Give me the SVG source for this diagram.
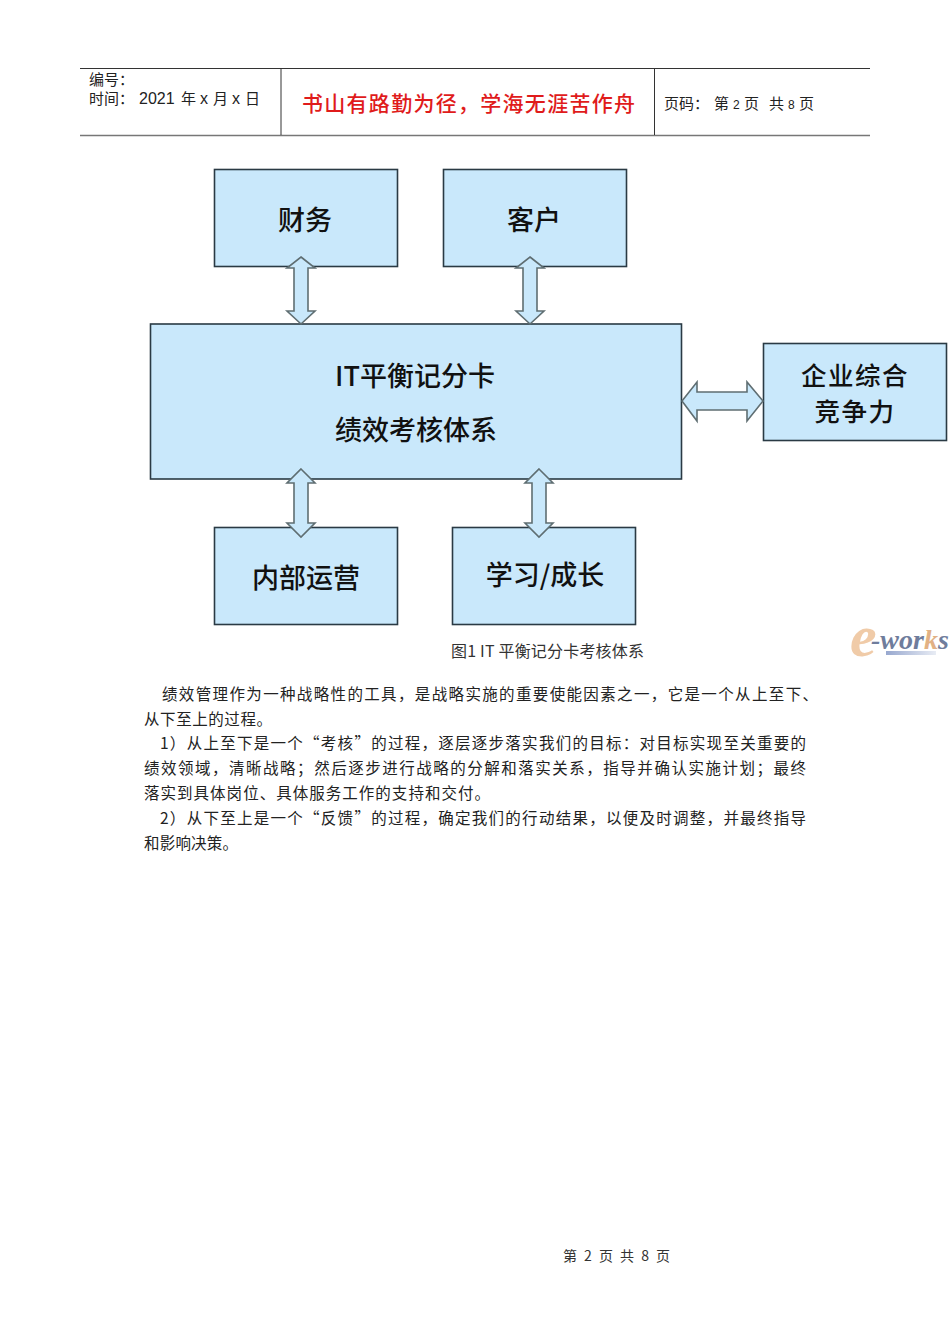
<svg xmlns="http://www.w3.org/2000/svg" width="950" height="1344" viewBox="0 0 950 1344">
<defs>
<linearGradient id="bar" x1="0" x2="1" y1="0" y2="0"><stop offset="0" stop-color="#98a8cf"/><stop offset="1" stop-color="#e8ecf4"/></linearGradient>
</defs>
<style>
text{font-family:"Noto Sans CJK SC","Liberation Sans",sans-serif;fill:#1c1c1c}
.box{fill:#c9e8fb;stroke:#2a3a44;stroke-width:1.6}
.arrow{fill:#c9e8fb;stroke:#5f6e72;stroke-width:1.6;stroke-linejoin:miter}
.big{font-size:27px;text-anchor:middle;fill:#111;font-weight:500}
.body{font-size:15.5px;fill:#222;font-family:"Noto Sans CJK SC",sans-serif}
.head{font-size:15px;fill:#222}
.rule{stroke:#333;stroke-width:1;fill:none}
</style>
<rect width="950" height="1344" fill="#fff"/>
<g id="header">
<path class="rule" d="M80 68.500H870"/>
<path d="M80 135.500H870" stroke="#777" stroke-width="1.5"/>
<path class="rule" d="M281 68V135M654.500 68V135"/>
<text class="head" x="89" y="85">编号：</text>
<text class="head" y="104"><tspan x="89">时间：</tspan><tspan x="139" style="font-family:'Liberation Sans',sans-serif" font-size="16">2021</tspan><tspan x="181">年</tspan><tspan x="200" style="font-family:'Liberation Sans',sans-serif" font-size="16">x</tspan><tspan x="213">月</tspan><tspan x="232" style="font-family:'Liberation Sans',sans-serif" font-size="16">x</tspan><tspan x="245">日</tspan></text>
<text x="302" y="111" font-size="21" font-weight="500" style="fill:#e01b1b" textLength="333">书山有路勤为径，学海无涯苦作舟</text>
<text class="head" y="109"><tspan x="664">页码：</tspan><tspan x="714">第</tspan><tspan x="733" font-size="12" style="font-family:'Liberation Sans',sans-serif">2</tspan><tspan x="744">页</tspan><tspan x="769">共</tspan><tspan x="788" font-size="12" style="font-family:'Liberation Sans',sans-serif">8</tspan><tspan x="799">页</tspan></text>
</g>
<g id="node-finance"><rect class="box" x="214.500" y="169.500" width="183" height="97"/><text class="big" x="305" y="230">财务</text></g>
<g id="node-customer"><rect class="box" x="443.500" y="169.500" width="183" height="97"/><text class="big" x="534" y="230">客户</text></g>
<g id="node-main"><rect class="box" x="150.500" y="324" width="531" height="155"/>
<text class="big" x="415" y="386">IT平衡记分卡</text><text class="big" x="416" y="440">绩效考核体系</text></g>
<g id="node-competitive"><rect class="box" x="763.500" y="343.500" width="183" height="97"/>
<text class="big" x="855" y="385" style="font-size:25.500px;letter-spacing:1.500px">企业综合</text><text class="big" x="855" y="421" style="font-size:25.500px;letter-spacing:1.500px">竞争力</text></g>
<g id="node-internal"><rect class="box" x="214.500" y="527.500" width="183" height="97"/><text class="big" x="306" y="588">内部运营</text></g>
<g id="node-learning"><rect class="box" x="452.500" y="527.500" width="183" height="97"/><text class="big" x="545" y="585">学习/成长</text></g>
<g id="connectors">
<polygon class="arrow" points="301,257 315,268 308,268 308,311 315,311 301,324 287,311 294,311 294,268 287,268"/>
<polygon class="arrow" points="530,257 544,268 537,268 537,311 544,311 530,324 516,311 523,311 523,268 516,268"/>
<polygon class="arrow" points="682,401 697,382 697,392 747,392 747,382 763,401 747,421 747,410 697,410 697,421"/>
<polygon class="arrow" points="301,469 315,483 308,483 308,523 315,523 301,537 287,523 294,523 294,483 287,483"/>
<polygon class="arrow" points="539,469 553,483 546,483 546,523 553,523 539,537 525,523 532,523 532,483 525,483"/>
</g>
<text x="451" y="657" font-size="16" style="fill:#333" textLength="193">图1 IT 平衡记分卡考核体系</text>
<g id="logo">
<text y="656" font-weight="700" font-style="italic" style="font-family:'Liberation Serif',serif"><tspan x="850" font-size="60" style="fill:#f0cba8">e</tspan><tspan x="871" y="649" font-size="28" style="fill:#6f7d9c">-wor</tspan><tspan font-size="28" style="fill:#e2b184">k</tspan><tspan font-size="28" style="fill:#6f7d9c">s</tspan></text>
<rect x="886" y="651" width="50" height="4" fill="url(#bar)"/>
</g>
<g id="body">
<text class="body" x="162" y="700" textLength="656">绩效管理作为一种战略性的工具，是战略实施的重要使能因素之一，它是一个从上至下、</text>
<text class="body" x="144" y="725" textLength="128">从下至上的过程。</text>
<text class="body" x="160" y="749" textLength="646">1）从上至下是一个“考核”的过程，逐层逐步落实我们的目标：对目标实现至关重要的</text>
<text class="body" x="144" y="774" textLength="662">绩效领域，清晰战略；然后逐步进行战略的分解和落实关系，指导并确认实施计划；最终</text>
<text class="body" x="144" y="799" textLength="346">落实到具体岗位、具体服务工作的支持和交付。</text>
<text class="body" x="160" y="824" textLength="646">2）从下至上是一个“反馈”的过程，确定我们的行动结果，以便及时调整，并最终指导</text>
<text class="body" x="144" y="849" textLength="94">和影响决策。</text>
</g>
<text id="footer" x="563" y="1261" font-size="14" style="fill:#333" textLength="107">第 2 页 共 8 页</text>
</svg>
